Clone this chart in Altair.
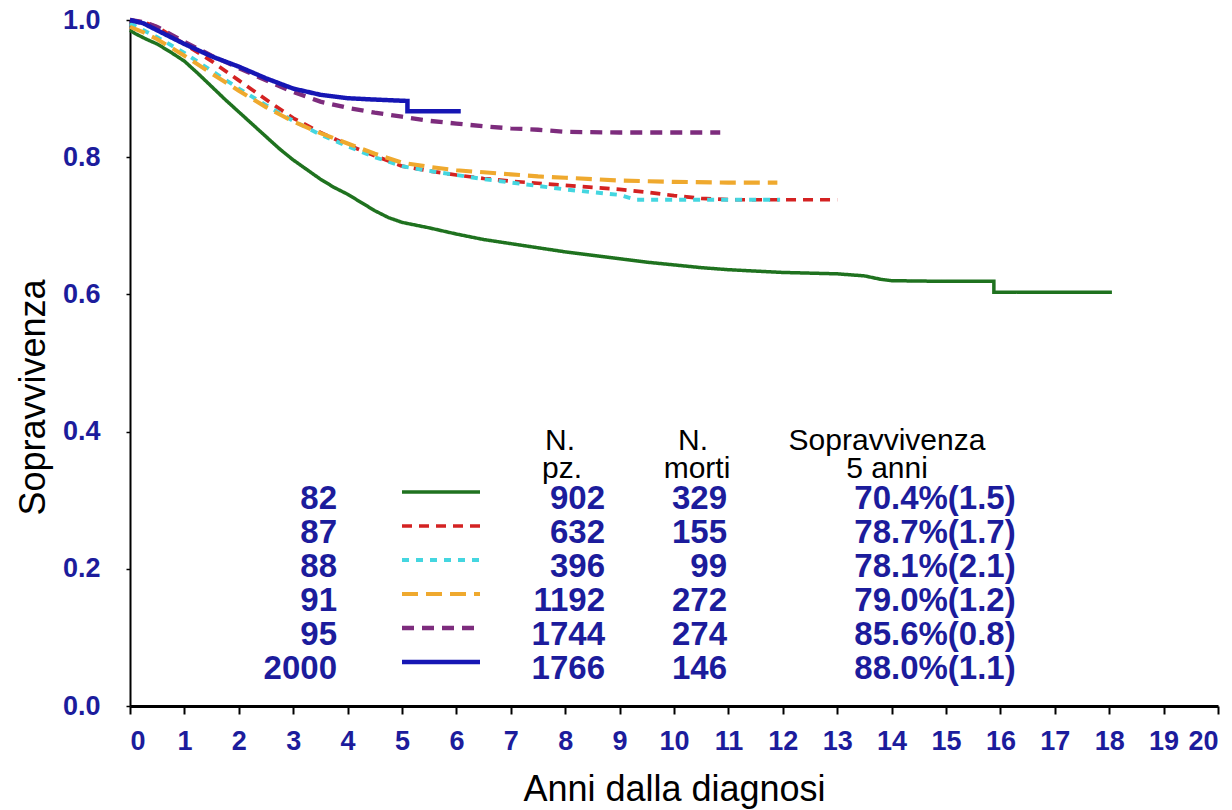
import altair as alt
import pandas as pd

# ---- data ----
series = ["82", "87", "88", "91", "95", "2000"]

t_82 = [0, 0.1, 0.3, 0.5, 0.75, 1.0, 1.25, 1.5, 1.75, 2.0, 2.25, 2.5, 2.75, 3.0, 3.25, 3.5, 3.75, 4.0,
        4.25, 4.5, 4.75, 5.0, 5.5, 6.0, 6.5, 7.0, 7.5, 8.0, 8.5, 9.0, 9.5, 10.0, 10.5, 11.0, 11.5, 12.0,
        12.5, 13.0, 13.5, 13.8, 14.0, 15.0, 15.88, 15.88, 18.05]
s_82 = [0.985, 0.98, 0.972, 0.965, 0.953, 0.94, 0.922, 0.903, 0.884, 0.866, 0.848, 0.83, 0.812, 0.796,
        0.782, 0.768, 0.756, 0.746, 0.734, 0.722, 0.712, 0.705, 0.697, 0.688, 0.68, 0.674, 0.668, 0.662,
        0.657, 0.652, 0.647, 0.643, 0.639, 0.636, 0.634, 0.632, 0.631, 0.63, 0.627, 0.622, 0.62, 0.619,
        0.619, 0.603, 0.603]

t_87 = [0, 0.25, 0.5, 1.0, 1.5, 2.0, 2.5, 3.0, 3.5, 4.0, 4.5, 5.0, 5.5, 6.0, 6.5, 7.0, 7.5, 8.0, 8.5,
        9.0, 9.5, 10.0, 10.5, 11.0, 12.0, 13.0]
s_87 = [1.0, 0.997, 0.99, 0.965, 0.94, 0.912, 0.884, 0.857, 0.836, 0.818, 0.802, 0.787, 0.78, 0.774,
        0.769, 0.765, 0.762, 0.759, 0.756, 0.753, 0.749, 0.744, 0.74, 0.738, 0.738, 0.738]

t_88 = [0, 0.25, 0.5, 1.0, 1.5, 2.0, 2.5, 3.0, 3.5, 4.0, 4.5, 5.0, 5.5, 6.0, 6.5, 7.0, 7.5, 8.0, 8.5,
        9.0, 9.3, 10.0, 11.0, 11.95]
s_88 = [0.995, 0.985, 0.975, 0.952, 0.926, 0.9, 0.876, 0.853, 0.833, 0.816, 0.8, 0.787, 0.78, 0.774,
        0.768, 0.763, 0.758, 0.753, 0.749, 0.745, 0.738, 0.738, 0.738, 0.738]

t_91 = [0, 0.25, 0.5, 1.0, 1.5, 2.0, 2.5, 3.0, 3.5, 4.0, 4.5, 5.0, 5.5, 6.0, 6.5, 7.0, 7.5, 8.0, 8.5,
        9.0, 10.0, 11.0, 11.9]
s_91 = [0.99, 0.982, 0.972, 0.948, 0.922, 0.897, 0.873, 0.852, 0.835, 0.82, 0.805, 0.792, 0.786, 0.781,
        0.778, 0.775, 0.772, 0.77, 0.768, 0.766, 0.764, 0.763, 0.763]

t_95 = [0, 0.25, 0.5, 1.0, 1.5, 2.0, 2.5, 3.0, 3.5, 4.0, 4.5, 5.0, 5.5, 6.0, 6.5, 7.0, 7.5, 8.0, 9.0,
        10.0, 10.85]
s_95 = [1.0, 0.997, 0.99, 0.968, 0.948, 0.93, 0.912, 0.895, 0.881, 0.872, 0.865, 0.859, 0.853, 0.849,
        0.845, 0.842, 0.84, 0.837, 0.836, 0.836, 0.836]

t_2000 = [0, 0.25, 0.5, 1.0, 1.5, 2.0, 2.5, 3.0, 3.5, 4.0, 4.5, 5.1, 5.1, 6.08]
s_2000 = [1.0, 0.995, 0.985, 0.965, 0.947, 0.932, 0.915, 0.9, 0.891, 0.886, 0.884, 0.882, 0.867, 0.867]

n_pz = ["902", "632", "396", "1192", "1744", "1766"]
n_morti = ["329", "155", "99", "272", "274", "146"]
surv_5 = ["70.4%(1.5)", "78.7%(1.7)", "78.1%(2.1)", "79.0%(1.2)", "85.6%(0.8)", "88.0%(1.1)"]

x_ticks = list(range(0, 21))
y_ticks = [0.0, 0.2, 0.4, 0.6, 0.8, 1.0]

# ---- styles ----
colors = ["#1f721f", "#d42222", "#44d6e0", "#efa92e", "#7d2c7d", "#1616b4"]
dashes = [[1, 0], [10, 7], [7, 7], [16, 8], [12, 8], [1, 0]]
widths = [3.5, 4.5, 4.5, 5.5, 2.5, 5]
BLUE = "#1c1c9c"
FONT = "Liberation Sans"

rows = []
for name, ts, ss in [("82", t_82, s_82), ("87", t_87, s_87), ("88", t_88, s_88),
                     ("91", t_91, s_91), ("95", t_95, s_95), ("2000", t_2000, s_2000)]:
    for i, (t, s) in enumerate(zip(ts, ss)):
        rows.append({"serie": name, "t": t, "s": s, "ord": i})
curves = pd.DataFrame(rows)

color_s = alt.Scale(domain=series, range=colors)
dash_s = alt.Scale(domain=series, range=dashes)
width_s = alt.Scale(domain=series, range=widths)

W, H = 1088, 686

lines = alt.Chart(curves).mark_line(interpolate="linear", strokeCap="butt").encode(
    x=alt.X("t:Q", scale=alt.Scale(domain=[0, 20], nice=False),
            axis=alt.Axis(values=x_ticks, format="d", title="Anni dalla diagnosi",
                          labelFont=FONT, labelFontSize=27, labelFontWeight="bold", labelColor=BLUE,
                          labelPadding=14, tickSize=8, tickColor="black", tickWidth=2,
                          domainColor="black", domainWidth=3, grid=False,
                          titleFont=FONT, titleFontSize=36, titleFontWeight="normal", titleColor="black",
                          titleBaseline="alphabetic", titleY=94)),
    y=alt.Y("s:Q", scale=alt.Scale(domain=[0, 1], nice=False),
            axis=alt.Axis(values=y_ticks, format=".1f", title="Sopravvivenza",
                          labelFont=FONT, labelFontSize=27, labelFontWeight="bold", labelColor=BLUE,
                          labelPadding=26, tickSize=4, tickColor="black", tickWidth=1.5,
                          domainColor="black", domainWidth=2, grid=False,
                          titleFont=FONT, titleFontSize=36, titleFontWeight="normal", titleColor="black",
                          titleAngle=270, titleBaseline="middle", titleAlign="center",
                          titleX=-97, titleY=377)),
    color=alt.Color("serie:N", scale=color_s, legend=None),
    strokeDash=alt.StrokeDash("serie:N", scale=dash_s, legend=None),
    strokeWidth=alt.StrokeWidth("serie:N", scale=width_s, legend=None),
    detail="serie:N",
    order="ord:Q",
)

# ---- table (annotation) ----
ROW0 = 489   # baseline of first row in plot pixels
DY = 34
tab = pd.DataFrame({
    "serie": series, "npz": n_pz, "morti": n_morti, "surv": surv_5,
    "row": list(range(len(series))),
})
tab["py"] = ROW0 + DY * tab["row"]
tab["ly"] = ROW0 - 17 + DY * tab["row"]
tab["lx1"] = 272
tab["lx2"] = 350


def col_text(field, xpx, align):
    return alt.Chart(tab).mark_text(font=FONT, fontSize=33, fontWeight="bold", color=BLUE,
                                    align=align, baseline="alphabetic").encode(
        x=alt.value(xpx), y=alt.Y("py:Q", scale=None), text=f"{field}:N")


t_year = col_text("serie", 207, "right")
t_npz = col_text("npz", 475, "right")
t_morti = col_text("morti", 597, "right")
t_surv = col_text("surv", 805, "center")

samples = alt.Chart(tab).mark_rule(strokeCap="butt").encode(
    x=alt.X("lx1:Q", scale=None), x2="lx2:Q", y=alt.Y("ly:Q", scale=None),
    color=alt.Color("serie:N", scale=color_s, legend=None),
    strokeDash=alt.StrokeDash("serie:N", scale=dash_s, legend=None),
    strokeWidth=alt.StrokeWidth("serie:N", scale=width_s, legend=None),
)

headers = pd.DataFrame({
    "txt": ["N.", "pz.", "N.", "morti", "Sopravvivenza", "5 anni"],
    "hx": [430, 432, 563, 567, 757, 757],
    "hy": [430, 458, 430, 458, 430, 458],
})
t_head = alt.Chart(headers).mark_text(font=FONT, fontSize=30, color="black",
                                      align="center", baseline="alphabetic").encode(
    x=alt.X("hx:Q", scale=None), y=alt.Y("hy:Q", scale=None), text="txt:N")

chart = alt.layer(lines, samples, t_year, t_npz, t_morti, t_surv, t_head).properties(
    width=W, height=H,
    autosize=alt.AutoSizeParams(type="none"),
    padding={"left": 130, "top": 20, "right": 14, "bottom": 104},
    background="white",
).configure_view(stroke=None)

chart.save("out.html", embed_options={"renderer": "svg", "actions": False})
